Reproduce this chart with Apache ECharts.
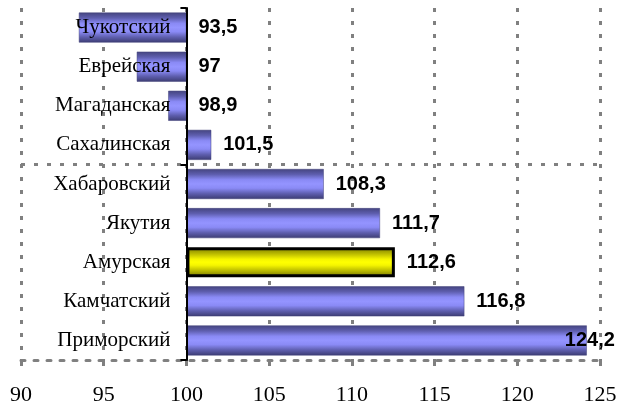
<!DOCTYPE html>
<html>
<head>
<meta charset="utf-8">
<script src="https://cdn.jsdelivr.net/npm/echarts@6/dist/echarts.min.js"></script>
<style>
html,body{margin:0;padding:0;background:#fff;}
#chart{width:617px;height:403px;}
</style>
</head>
<body>
<div id="chart"></div>
<script>
// Categories listed bottom-up (first category at the bottom, as in the original)
const categories = ['Приморский','Камчатский','Амурская','Якутия','Хабаровский','Сахалинская','Магаданская','Еврейская','Чукотский'];
const values = [124.2, 116.8, 112.6, 111.7, 108.3, 101.5, 98.9, 97, 93.5];
const highlight = 'Амурская';
const baseLine = 100;
const xTicks = [90, 95, 100, 105, 110, 115, 120, 125];

const baseVals = values.map(v => Math.min(v, baseLine));
const diffVals = values.map(v => Math.abs(v - baseLine));

const blueGrad = new echarts.graphic.LinearGradient(0, 0, 0, 1, [
  {offset: 0, color: '#44447f'},
  {offset: 0.18, color: '#5e5eae'},
  {offset: 0.36, color: '#8a8af5'},
  {offset: 0.5, color: '#9494ff'},
  {offset: 0.64, color: '#8a8af5'},
  {offset: 0.82, color: '#5e5eae'},
  {offset: 1, color: '#3c3c72'}
]);
const yellowGrad = new echarts.graphic.LinearGradient(0, 0, 0, 1, [
  {offset: 0, color: '#7a7a00'},
  {offset: 0.2, color: '#b5b500'},
  {offset: 0.4, color: '#f5f500'},
  {offset: 0.5, color: '#ffff00'},
  {offset: 0.6, color: '#f5f500'},
  {offset: 0.8, color: '#b5b500'},
  {offset: 1, color: '#6e6e00'}
]);

const grid = {left: 21, right: 17, top: 8, bottom: 43, containLabel: false, outerBoundsMode: 'none'};
const pxPerUnit = (617 - grid.left - grid.right) / (xTicks[xTicks.length-1] - xTicks[0]);
const axisOffset = -(baseLine - xTicks[0]) * pxPerUnit;

const dashGray = {color: '#808080', width: 3, type: [4, 9]};
const boundaryEvery5 = (i) => i === 0 || i === 5;

const chart = echarts.init(document.getElementById('chart'), null, {renderer: 'canvas'});
chart.setOption({
  animation: false,
  backgroundColor: '#ffffff',
  grid: grid,
  xAxis: {
    type: 'value',
    min: xTicks[0],
    max: xTicks[xTicks.length-1],
    interval: 5,
    axisLine: {show: true, lineStyle: dashGray},
    axisTick: {show: true, length: 6, lineStyle: {color: '#808080', width: 3}},
    splitLine: {show: true, lineStyle: dashGray},
    axisLabel: {
      fontFamily: 'Liberation Serif', fontSize: 22, color: '#000', margin: 24,
      formatter: v => String(v)
    }
  },
  yAxis: {
    type: 'category',
    data: categories,
    position: 'left',
    offset: axisOffset,
    z: 5,
    axisLine: {show: true, lineStyle: {color: '#000', width: 2}},
    axisTick: {show: true, interval: boundaryEvery5, length: 6, lineStyle: {color: '#000', width: 2}},
    splitLine: {
      show: true, interval: boundaryEvery5,
      lineStyle: {color: ['#808080', '#808080', 'rgba(0,0,0,0)'], width: 3, type: [4, 9]}
    },
    axisLabel: {
      fontFamily: 'Liberation Serif', fontSize: 21, color: '#000', margin: 16
    }
  },
  series: [
    {
      type: 'bar', stack: 'a', silent: true, barWidth: 30,
      itemStyle: {color: 'rgba(0,0,0,0)'},
      data: baseVals
    },
    {
      type: 'bar', stack: 'a', barWidth: 30,
      data: diffVals.map((d, i) => {
        const isHi = categories[i] === highlight;
        const item = {
          value: d,
          itemStyle: isHi
            ? {color: yellowGrad, borderColor: '#000', borderWidth: 3}
            : {color: blueGrad, borderColor: '#40407a', borderWidth: 0.5}
        };
        if (values[i] > 120) {
          item.label = {offset: [-34, 0]};
        }
        return item;
      }),
      label: {
        show: true,
        position: 'right',
        distance: 12,
        fontFamily: 'Liberation Sans',
        fontWeight: 'bold',
        fontSize: 20,
        color: '#000',
        formatter: p => String(values[p.dataIndex]).replace('.', ',')
      }
    }
  ]
});
</script>
</body>
</html>
